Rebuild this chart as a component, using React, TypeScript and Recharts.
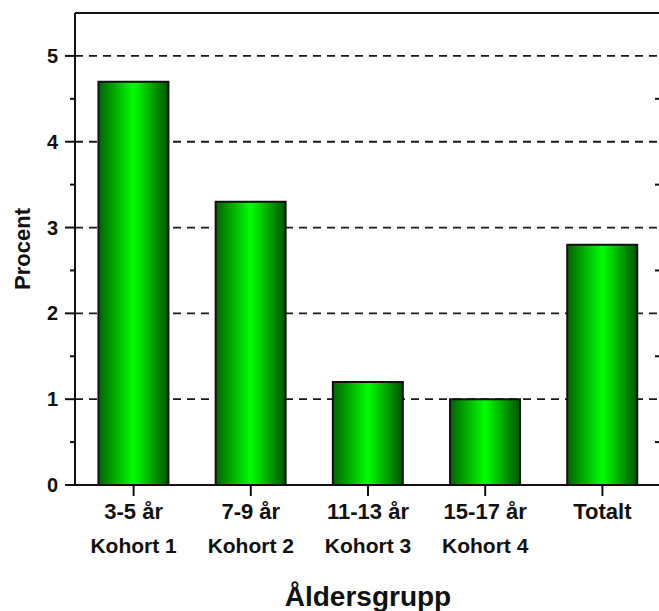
import React from "react";
import { ComposedChart, Bar, Line, XAxis, YAxis, CartesianGrid, ReferenceLine, Label } from "recharts";

const groups = ["3-5 år", "7-9 år", "11-13 år", "15-17 år", "Totalt"];
const cohorts = ["Kohort 1", "Kohort 2", "Kohort 3", "Kohort 4", ""];
const percent = [4.7, 3.3, 1.2, 1.0, 2.8];

const yTicks = [0, 0.5, 1, 1.5, 2, 2.5, 3, 3.5, 4, 4.5, 5];
const gridValues = [1, 2, 3, 4, 5];
const rightTicks = [0.5, 1.5, 2.5, 3.5, 4.5];

const chartData = groups.map((g, i) => ({ group: g, cohort: cohorts[i], value: percent[i] }));

const FONT = "'Liberation Sans', Arial, sans-serif";

function LeftTick(props: any) {
  const { x, y, payload } = props;
  const v = payload.value as number;
  const major = Number.isInteger(v);
  const axisX = x + 17;
  return (
    <g>
      <line x1={axisX - (major ? 10 : 5)} x2={axisX} y1={y} y2={y} stroke="#111" strokeWidth={2} />
      {major && (
        <text x={x} y={y} dy={7} textAnchor="end" fontFamily={FONT} fontWeight="bold" fontSize={20} fill="#111">
          {v}
        </text>
      )}
    </g>
  );
}

// short inward ticks on the right edge; tick x = axis + tickMargin
function RightTick(props: any) {
  const { y } = props;
  const axisX = props.x - 8;
  return <line x1={axisX - 6} x2={axisX} y1={y} y2={y} stroke="#111" strokeWidth={2} />;
}

function BottomTick(props: any) {
  const { x, y, index } = props;
  return (
    <text textAnchor="middle" fontFamily={FONT} fontWeight="bold" fill="#111">
      <tspan x={x} y={y + 19} fontSize={22}>{groups[index]}</tspan>
      <tspan x={x} y={y + 53} fontSize={21}>{cohorts[index]}</tspan>
    </text>
  );
}

export default function App() {
  return (
    <div style={{ position: "absolute", left: 0, top: 0, width: 659, height: 611, overflow: "hidden", background: "#fff" }}>
      <ComposedChart width={662} height={611} data={chartData} margin={{ top: 13, right: 0, bottom: 0, left: 0 }} barCategoryGap="20%">
        <defs>
          <linearGradient id="barGrad" x1="0" y1="0" x2="1" y2="0">
            <stop offset="0%" stopColor="#006400" />
            <stop offset="50%" stopColor="#00ff00" />
            <stop offset="100%" stopColor="#005200" />
          </linearGradient>
        </defs>
        <CartesianGrid
          vertical={false}
          horizontalValues={gridValues}
          stroke="#1a1a1a"
          strokeWidth={1.8}
          strokeDasharray="8 6"
          yAxisId="left"
        />
        <XAxis
          dataKey="group"
          height={126}
          axisLine={{ stroke: "#111", strokeWidth: 2 }}
          tickLine={{ stroke: "#111", strokeWidth: 2 }}
          tickSize={11}
          tickMargin={4}
          tick={<BottomTick />}
          interval={0}
        >
          <Label
            value="Åldersgrupp"
            position="insideBottom"
            offset={5}
            style={{ fontFamily: FONT, fontWeight: "bold", fontSize: 28, fill: "#111" }}
          />
        </XAxis>
        <YAxis
          yAxisId="left"
          width={75}
          domain={[0, 5.5]}
          ticks={yTicks}
          interval={0}
          tickSize={10}
          tickMargin={7}
          tickLine={false}
          axisLine={{ stroke: "#111", strokeWidth: 2 }}
          tick={<LeftTick />}
        >
          <Label
            value="Procent"
            angle={-90}
            position="insideLeft"
            offset={22}
            style={{ fontFamily: FONT, fontWeight: "bold", fontSize: 22, fill: "#111", textAnchor: "middle" }}
          />
        </YAxis>
        <YAxis
          yAxisId="right"
          orientation="right"
          width={1}
          domain={[0, 5.5]}
          ticks={rightTicks}
          interval={0}
          tickSize={0}
          tickMargin={8}
          tickLine={false}
          axisLine={false}
          tick={<RightTick />}
        />
        <ReferenceLine yAxisId="left" y={5.5} stroke="#111" strokeWidth={2} />
        <Bar yAxisId="left" dataKey="value" fill="url(#barGrad)" stroke="#111" strokeWidth={2} isAnimationActive={false} />
        {/* invisible series so the right axis gets drawn */}
        <Line yAxisId="right" dataKey="value" stroke="none" dot={false} activeDot={false} legendType="none" isAnimationActive={false} />
      </ComposedChart>
    </div>
  );
}
